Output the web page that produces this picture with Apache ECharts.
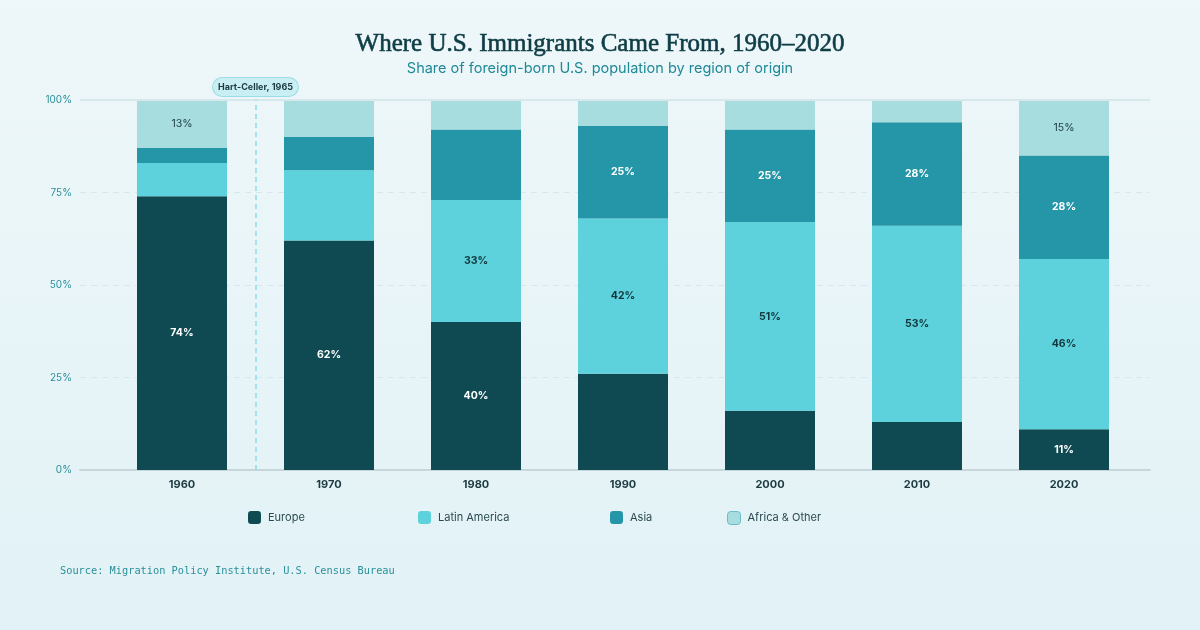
<!DOCTYPE html>
<html>
<head>
<meta charset="utf-8">
<script src="https://cdn.jsdelivr.net/npm/echarts@6/dist/echarts.min.js"></script>
<style>
  html, body { margin: 0; padding: 0; }
  #chart { width: 1200px; height: 630px; background: linear-gradient(180deg, #eef7f9 0%, #e2f2f6 100%); }
</style>
</head>
<body>
<div id="chart"></div>
<script>
const years = ['1960', '1970', '1980', '1990', '2000', '2010', '2020'];
const europe = [74, 62, 40, 26, 16, 13, 11];
const latinAmerica = [9, 19, 33, 42, 51, 53, 46];
const asia = [4, 9, 19, 25, 25, 28, 28];
const africaOther = [13, 10, 8, 7, 8, 6, 15];
// which segments carry a value label
const europeLabels = [1, 1, 1, 0, 0, 0, 1];
const latinLabels = [0, 0, 1, 1, 1, 1, 1];
const asiaLabels = [0, 0, 0, 1, 1, 1, 1];
const otherLabels = [1, 0, 0, 0, 0, 0, 1];
const yTicks = [0, 25, 50, 75, 100];

const colors = {
  europe: '#0f4a52',
  latin: '#5dd1dc',
  asia: '#2496a8',
  other: '#a8dde0'
};

const FONT = 'Inter, "Noto Sans", sans-serif';

function items(values, flags) {
  return values.map((v, i) => ({ value: v, label: { show: !!flags[i] } }));
}

function barSeries(name, values, flags, color, labelColor, bold) {
  return {
    name: name,
    type: 'bar',
    stack: 'total',
    xAxisIndex: 1,
    yAxisIndex: 1,
    barWidth: 90,
    itemStyle: { color: color },
    label: {
      position: 'inside',
      formatter: '{c}%',
      color: labelColor,
      fontFamily: FONT,
      fontSize: 10.5,
      fontWeight: bold ? 'bold' : 'normal'
    },
    emphasis: { disabled: true },
    data: items(values, flags)
  };
}

const chart = echarts.init(document.getElementById('chart'));
chart.setOption({
  animation: false,
  title: [
    {
      text: 'Where U.S. Immigrants Came From, 1960–2020',
      left: 'center',
      top: 27,
      textStyle: {
        fontFamily: '"Liberation Serif", serif', fontSize: 25, fontWeight: 'normal', color: '#0f3d46',
        textBorderColor: '#0f3d46', textBorderWidth: 0.6
      }
    },
    {
      text: 'Share of foreign-born U.S. population by region of origin',
      left: 'center',
      top: 56,
      textStyle: { fontFamily: FONT, fontSize: 14.5, fontWeight: 'normal', color: '#1f8a96' }
    },
    {
      text: 'Source: Migration Policy Institute, U.S. Census Bureau',
      left: 55,
      top: 561,
      textStyle: { fontFamily: '"DejaVu Sans Mono", monospace', fontSize: 10.3, fontWeight: 'normal', color: '#2a8f9a' }
    }
  ],
  legend: [
    { left: 248, name: 'Europe' },
    { left: 418, name: 'Latin America' },
    { left: 610, name: 'Asia' },
    { left: 727, name: 'Africa & Other' }
  ].map(l => ({
    left: l.left,
    top: 511,
    padding: 0,
    itemWidth: 13,
    itemHeight: 13,
    itemGap: 0,
    icon: 'roundRect',
    selectedMode: false,
    textStyle: { fontFamily: FONT, fontSize: 11, color: '#2b4a50', padding: [0, 0, 0, 2] },
    data: [l.name === 'Africa & Other'
      ? { name: l.name, itemStyle: { borderColor: '#6cbcc6', borderWidth: 1 } }
      : { name: l.name }]
  })),
  grid: [
    { left: 80, right: 50, top: 100, bottom: 160 },
    { left: 108.5, right: 62.5, top: 100, bottom: 160 }
  ],
  xAxis: [
    {
      type: 'value',
      gridIndex: 0,
      min: 1953.06,
      max: 2025.85,
      axisLine: { show: true, lineStyle: { color: '#c7d6da', width: 2 } },
      axisTick: { show: false },
      axisLabel: { show: false },
      splitLine: { show: false }
    },
    {
      type: 'category',
      gridIndex: 1,
      data: years,
      axisLine: { show: false },
      axisTick: { show: false },
      axisLabel: { margin: 9, fontFamily: FONT, fontSize: 11, fontWeight: 'bold', color: '#1c3a40' }
    }
  ],
  yAxis: [
    {
      type: 'value',
      gridIndex: 0,
      min: 0,
      max: 100,
      interval: 25,
      axisLine: { show: false },
      axisTick: { show: false },
      axisLabel: {
        margin: 8,
        fontFamily: FONT,
        fontSize: 10,
        color: '#2a8f9a',
        formatter: v => (yTicks.includes(v) ? v + '%' : '')
      },
      splitLine: { show: true, lineStyle: { color: '#d6e8ec', type: [6, 5], width: 1 } }
    },
    {
      type: 'value',
      gridIndex: 1,
      min: 0,
      max: 100,
      show: false
    }
  ],
  series: [
    {
      type: 'line',
      xAxisIndex: 0,
      yAxisIndex: 0,
      data: [],
      markLine: {
        symbol: 'none',
        silent: true,
        data: [
          {
            yAxis: 100,
            lineStyle: { color: '#d6e8ec', type: 'solid', width: 2 },
            label: { show: false }
          },
          {
            xAxis: 1965,
            lineStyle: { color: '#8fdbe6', type: [5, 4], width: 1.5 },
            label: {
              show: true,
              position: 'end',
              formatter: 'Hart-Celler, 1965',
              distance: 4,
              fontFamily: FONT,
              fontSize: 9,
              fontWeight: 'bold',
              color: '#1c3a40',
              backgroundColor: '#c9eef4',
              borderColor: '#99dde7',
              borderWidth: 1,
              borderRadius: 9,
              padding: [5, 5, 4, 5]
            }
          }
        ]
      }
    },
    barSeries('Europe', europe, europeLabels, colors.europe, '#ffffff', true),
    barSeries('Latin America', latinAmerica, latinLabels, colors.latin, '#12363c', true),
    barSeries('Asia', asia, asiaLabels, colors.asia, '#ffffff', true),
    barSeries('Africa & Other', africaOther, otherLabels, colors.other, '#1c3a40', false)
  ]
});
</script>
</body>
</html>
